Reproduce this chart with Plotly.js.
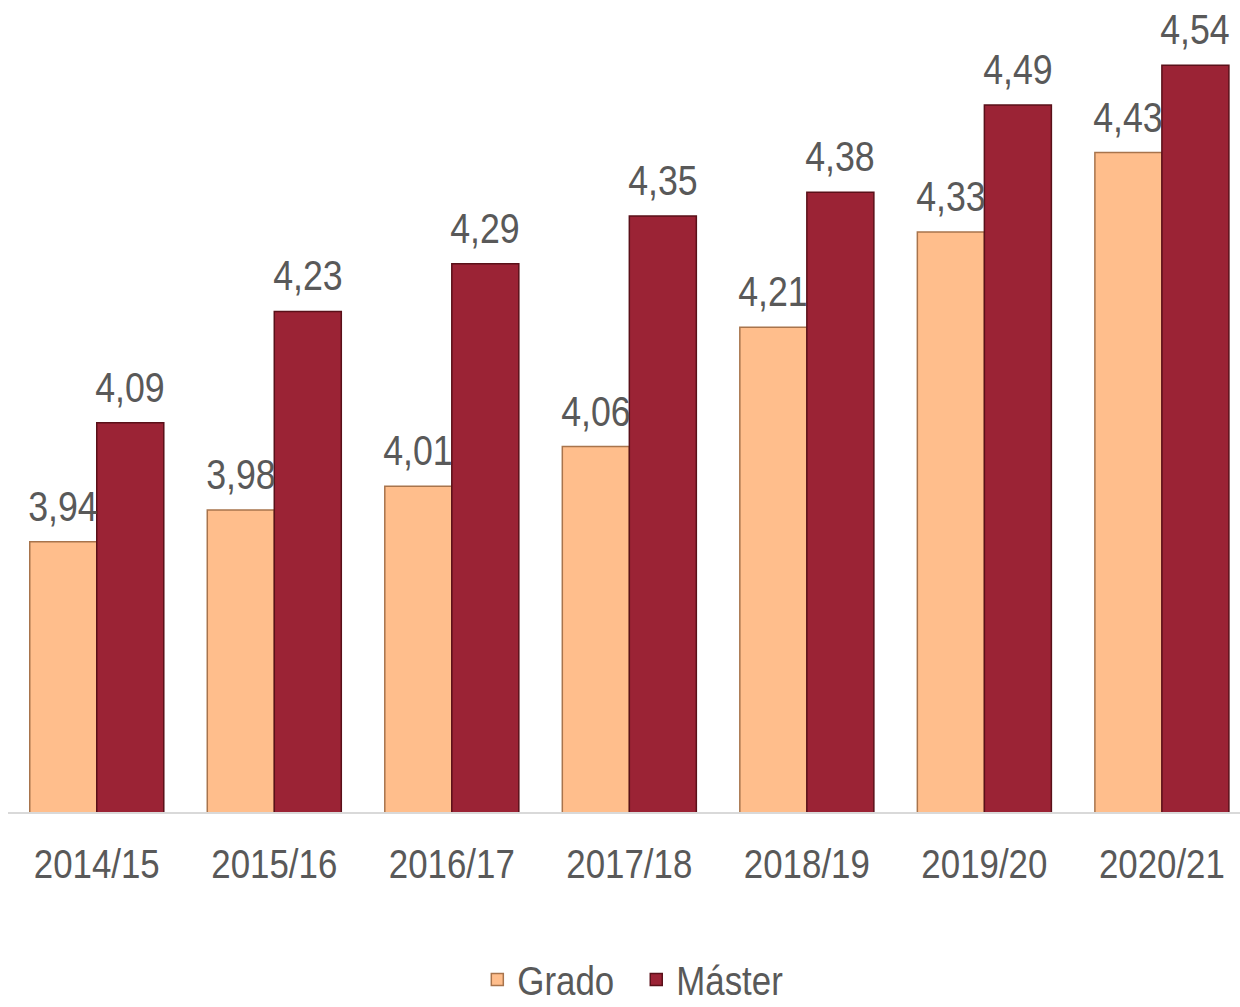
<!DOCTYPE html>
<html><head><meta charset="utf-8">
<script src="https://cdn.plot.ly/plotly-3.0.1.min.js"></script>
<style>html,body{margin:0;padding:0;background:#fff}#chart{width:1240px;height:1007px}</style>
</head><body><div id="chart"></div>
<script>
const categories = ["2014/15","2015/16","2016/17","2017/18","2018/19","2019/20","2020/21"];
const grado = [3.94, 3.98, 4.01, 4.06, 4.21, 4.33, 4.43];
const master = [4.09, 4.23, 4.29, 4.35, 4.38, 4.49, 4.54];
const seriesNames = ["Grado", "Máster"];

const FONT = "'Liberation Sans', Arial, sans-serif";
const TXT = '#595959';
const fmt = v => v.toFixed(2).replace('.', ',');

const traces = [
  {type:'bar', name:seriesNames[0], x:categories, y:grado,
   marker:{color:'#FFBE8C', line:{color:'#A8744C', width:1.5}}},
  {type:'bar', name:seriesNames[1], x:categories, y:master,
   marker:{color:'#9B2335', line:{color:'#5A1019', width:1.5}}}
];

// value labels placed on each bar through the axes (offset to the bar within its group)
const annotations = [];
[[grado, -33.5], [master, 33.5]].forEach(([vals, dx]) => {
  vals.forEach((v, i) => annotations.push({
    xref:'x', yref:'y', x:categories[i], y:v, text:fmt(v),
    xshift:dx, yshift:10, yanchor:'bottom', xanchor:'center', showarrow:false,
    font:{family:FONT, size:42, color:TXT}
  }));
});

const layout = {
  width:1240, height:1007,
  margin:{l:8, r:0, t:0, b:195},
  paper_bgcolor:'#fff', plot_bgcolor:'#fff',
  separators:',.',
  barmode:'group', bargap:0.245, bargroupgap:0,
  showlegend:true,
  legend:{orientation:'h', x:0.518, xanchor:'center', xref:'container',
    y:0.027, yanchor:'middle', yref:'container',
    font:{family:FONT, size:41, color:TXT}, traceorder:'normal'},
  annotations:annotations,
  xaxis:{type:'category', range:[-0.5, 6.44], showgrid:false, zeroline:false,
    showline:true, linecolor:'#D9D9D9', linewidth:2, ticks:'', ticklabelstandoff:15,
    tickfont:{family:FONT, size:41, color:TXT}},
  yaxis:{range:[3.6, 4.622], visible:false, showgrid:false, zeroline:false},
  font:{family:FONT, color:TXT}
};

Plotly.newPlot('chart', traces, layout, {displayModeBar:false, staticPlot:true}).then(gd => {
  // emulate the narrow typeface of the original by condensing each text horizontally
  gd.querySelectorAll('svg text').forEach(t => {
    const w = t.getComputedTextLength();
    if (w > 0) {
      t.setAttribute('textLength', (w * 0.85).toFixed(1));
      t.setAttribute('lengthAdjust', 'spacingAndGlyphs');
    }
  });
});
</script></body></html>
